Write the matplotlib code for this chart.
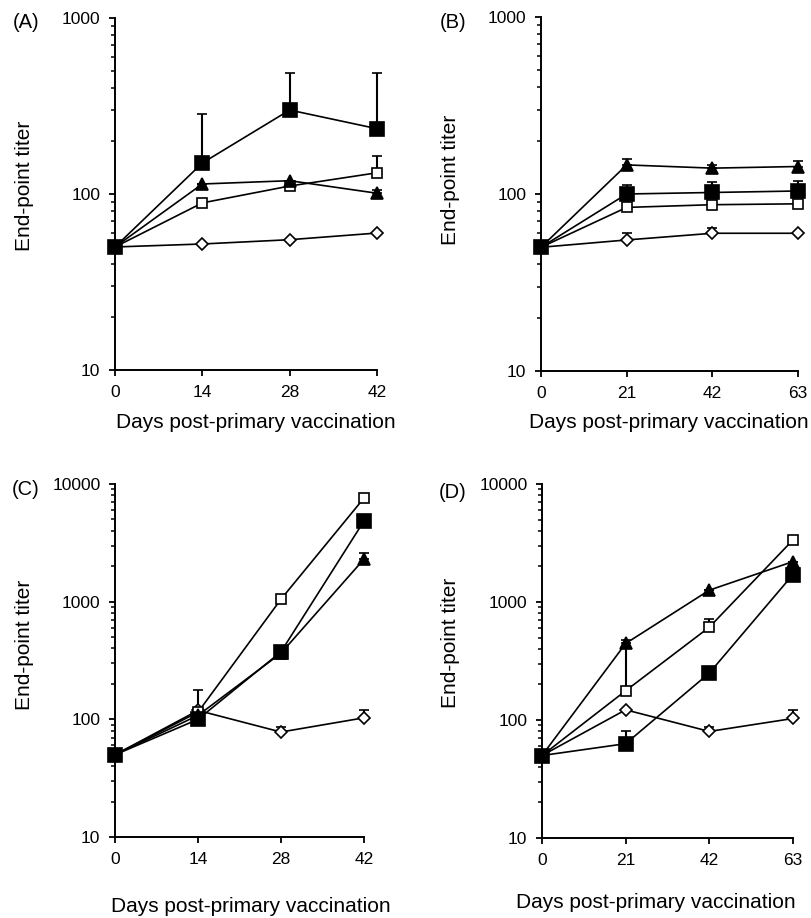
import numpy as np
import matplotlib
matplotlib.use("Agg")
import matplotlib.pyplot as plt
from matplotlib.ticker import LogLocator, FixedLocator, FuncFormatter, NullFormatter

plt.rcParams['font.family'] = ['Liberation Sans', 'DejaVu Sans']

# ---- dados ----
days_AC = [0, 14, 28, 42]
days_BD = [0, 21, 42, 63]

# painel A
A_fsq = [50, 150, 300, 235]
A_fsq_err = [0, 136, 190, 255]
A_tri = [50, 114, 119, 101]
A_tri_err = [0, 0, 0, 5]
A_osq = [50, 89, 111, 132]
A_osq_err = [0, 0, 0, 33]
A_dia = [50, 52, 55, 60]
A_dia_err = [0, 0, 0, 0]

# painel B
B_fsq = [50, 100, 102, 104]
B_fsq_err = [0, 13, 15, 15]
B_tri = [50, 146, 140, 143]
B_tri_err = [0, 11, 6, 11]
B_osq = [50, 84, 87, 88]
B_osq_err = [0, 0, 0, 0]
B_dia = [50, 55, 60, 60]
B_dia_err = [0, 5, 4, 0]

# painel C
C_fsq = [50, 100, 375, 4850]
C_fsq_err = [0, 0, 0, 0]
C_tri = [50, 108, 365, 2300]
C_tri_err = [0, 0, 0, 280]
C_osq = [50, 115, 1050, 7600]
C_osq_err = [0, 0, 0, 300]
C_dia = [50, 119, 78, 103]
C_dia_err = [0, 60, 8, 18]

# painel D
D_fsq = [50, 63, 250, 1710]
D_fsq_err = [0, 17, 0, 0]
D_tri = [50, 445, 1260, 2200]
D_tri_err = [0, 36, 0, 0]
D_osq = [50, 177, 612, 3360]
D_osq_err = [0, 245, 110, 0]
D_dia = [50, 122, 80, 103]
D_dia_err = [0, 0, 8, 19]

panel_labels = ["(A)", "(B)", "(C)", "(D)"]

# estilos: (marker, tamanho, cor da face)
STYLES = {
    "dia": ("D", 6.0, "white"),
    "osq": ("s", 7.5, "white"),
    "tri": ("^", 9.0, "black"),
    "fsq": ("s", 9.5, "black"),
}

panels = [
    (days_AC, {"dia": (A_dia, A_dia_err), "osq": (A_osq, A_osq_err),
               "tri": (A_tri, A_tri_err), "fsq": (A_fsq, A_fsq_err)}, 1000),
    (days_BD, {"dia": (B_dia, B_dia_err), "osq": (B_osq, B_osq_err),
               "tri": (B_tri, B_tri_err), "fsq": (B_fsq, B_fsq_err)}, 1000),
    (days_AC, {"dia": (C_dia, C_dia_err), "osq": (C_osq, C_osq_err),
               "tri": (C_tri, C_tri_err), "fsq": (C_fsq, C_fsq_err)}, 10000),
    (days_BD, {"dia": (D_dia, D_dia_err), "osq": (D_osq, D_osq_err),
               "tri": (D_tri, D_tri_err), "fsq": (D_fsq, D_fsq_err)}, 10000),
]

# posições dos eixos em pixels (esq, dir, topo, base) numa figura 811x918
W, H = 811, 918
boxes = [(115, 377, 18, 370), (541, 798, 17, 371),
         (115, 364, 484, 837), (542, 793, 484, 838)]
xlabel_pos = [(256, 422), (669, 422), (251, 907), (656, 902)]
ylabel_pos = [(24, 186), (450, 180), (24, 645), (451, 643)]
plabel_pos = [(26, 22), (453, 22), (26, 490), (453, 492)]

fig = plt.figure(figsize=(W / 100, H / 100), dpi=100)

for i, (days, series, ytop) in enumerate(panels):
    l, r, t, b = boxes[i]
    ax = fig.add_axes([l / W, 1 - b / H, (r - l) / W, (b - t) / H])
    for key in ["dia", "osq", "tri", "fsq"]:
        vals, err = series[key]
        m, ms, fc = STYLES[key]
        yerr = [np.zeros(len(err)), np.array(err, dtype=float)]
        ax.errorbar(days, vals, yerr=yerr, color="black", lw=1.2,
                    marker=m, ms=ms, mfc=fc, mec="black", mew=1.2,
                    elinewidth=1.5, capsize=3.5, capthick=1.5,
                    clip_on=False, zorder=3)

    ax.set_yscale("log")
    ax.set_ylim(10, ytop)
    ax.set_xlim(0, days[-1])
    ax.set_xticks(days)
    ax.set_xticklabels([str(d) for d in days])
    ax.yaxis.set_major_locator(LogLocator(base=10))
    ax.yaxis.set_minor_locator(LogLocator(base=10, subs=np.arange(2, 10)))
    ax.yaxis.set_major_formatter(FuncFormatter(lambda v, p: f"{int(round(v))}"))
    ax.yaxis.set_minor_formatter(NullFormatter())

    for s in ["top", "right"]:
        ax.spines[s].set_visible(False)
    for s in ["left", "bottom"]:
        ax.spines[s].set_linewidth(1.4)

    ax.tick_params(axis="both", which="major", direction="out", length=4.5,
                   width=1.3, labelsize=12.5, pad=6)
    ax.tick_params(axis="y", which="minor", direction="out", length=3, width=1.1)

    xl, yl = xlabel_pos[i]
    fig.text(xl / W, 1 - yl / H, "Days post-primary vaccination",
             ha="center", va="center", fontsize=15)
    yx, yy = ylabel_pos[i]
    fig.text(yx / W, 1 - yy / H, "End-point titer", rotation=90,
             ha="center", va="center", fontsize=15)
    px, py = plabel_pos[i]
    fig.text(px / W, 1 - py / H, panel_labels[i], ha="center", va="center",
             fontsize=14.5)

fig.savefig("out.png", dpi=100)
